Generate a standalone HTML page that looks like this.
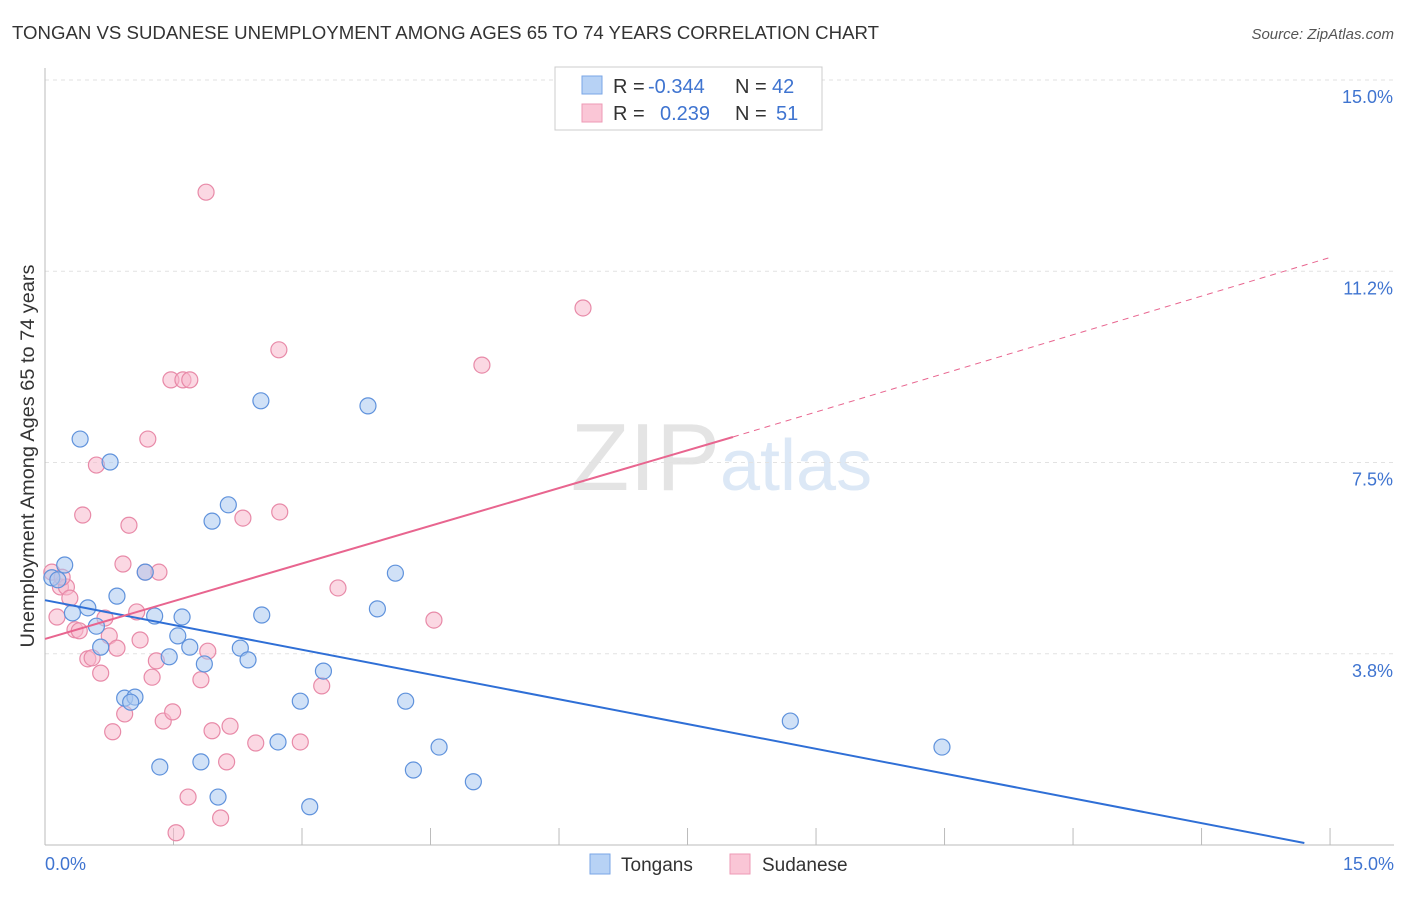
<!DOCTYPE html>
<html><head><meta charset="utf-8"><style>
body{margin:0;background:#fff;font-family:"Liberation Sans",sans-serif}
svg text{font-family:"Liberation Sans",sans-serif}
</style></head><body>
<svg id="c" width="1406" height="892">
<text x="12" y="39" font-size="18" fill="#333" textLength="867" lengthAdjust="spacingAndGlyphs">TONGAN VS SUDANESE UNEMPLOYMENT AMONG AGES 65 TO 74 YEARS CORRELATION CHART</text>
<text x="1394" y="39" font-size="15" fill="#555" font-style="italic" text-anchor="end">Source: ZipAtlas.com</text>
<text x="720" y="490" font-size="96" fill="#e4e4e4" font-family="Liberation Serif" text-anchor="end">ZIP</text>
<text x="720" y="490" font-size="72" fill="#dce8f6">atlas</text>
<text transform="translate(34,456) rotate(-90)" font-size="19.5" fill="#333" text-anchor="middle" textLength="383" lengthAdjust="spacingAndGlyphs">Unemployment Among Ages 65 to 74 years</text>
<g id="grid"></g><g id="marks"></g>
<rect x="555" y="67" width="267" height="63" fill="#fff" stroke="#ccc"/>
<rect x="582" y="76" width="20" height="18" fill="#b7d2f5" stroke="#7aa6e6"/>
<rect x="582" y="104" width="20" height="18" fill="#fac6d6" stroke="#ee9ab5"/>
<text x="613" y="93" font-size="20" fill="#333">R = <tspan x="648" fill="#3f74d0">-0.344</tspan><tspan x="735">N = </tspan><tspan x="772" fill="#3f74d0">42</tspan></text>
<text x="613" y="120" font-size="20" fill="#333">R = <tspan x="660" fill="#3f74d0">0.239</tspan><tspan x="735">N = </tspan><tspan x="776" fill="#3f74d0">51</tspan></text>
<rect x="590" y="854" width="20" height="20" fill="#b7d2f5" stroke="#7aa6e6"/>
<text x="621" y="871" font-size="19" fill="#333">Tongans</text>
<rect x="730" y="854" width="20" height="20" fill="#fac6d6" stroke="#ee9ab5"/>
<text x="762" y="871" font-size="19" fill="#333">Sudanese</text>
</svg>
<script>
const yTicks=[3.75,7.5,11.25,15];
const yTickLabels=["3.8%","7.5%","11.2%","15.0%"];
const xTickVals=[0,1.5,3,4.5,6,7.5,9,10.5,12,13.5,15];
const tongX=[0.08,0.23,0.41,0.76,0.50,0.32,0.60,0.84,0.65,0.93,1.05,1.0,1.17,1.28,1.34,1.55,1.45,1.60,1.69,1.82,1.86,1.95,2.02,2.14,2.28,2.37,2.52,2.53,2.72,2.98,3.09,3.25,3.77,3.88,4.09,4.21,4.30,4.60,5.0,8.70,10.47,0.15];
const tongY=[5.24,5.49,7.96,7.51,4.65,4.55,4.29,4.88,3.88,2.88,2.90,2.80,5.35,4.49,1.53,4.10,3.69,4.47,3.88,1.63,3.55,6.35,0.94,6.67,3.86,3.63,8.71,4.51,2.02,2.82,0.75,3.41,8.61,4.63,5.33,2.82,1.47,1.92,1.24,2.43,1.92,5.2];
const sudX=[1.88,6.28,2.73,5.10,1.47,1.61,1.69,1.20,0.60,0.44,0.98,2.31,2.74,0.91,1.17,1.33,3.42,4.54,0.08,0.18,0.25,0.29,0.14,0.35,0.40,0.70,1.07,0.75,0.84,1.11,0.50,0.55,0.65,1.30,1.25,1.90,1.82,0.93,1.38,1.49,0.79,1.95,2.16,2.46,2.98,3.23,2.12,1.67,2.05,1.53,0.20];
const sudY=[12.8,10.53,9.71,9.41,9.12,9.12,9.12,7.96,7.45,6.47,6.27,6.41,6.53,5.51,5.35,5.35,5.04,4.41,5.35,5.06,5.06,4.84,4.47,4.22,4.20,4.45,4.57,4.10,3.86,4.02,3.65,3.67,3.37,3.61,3.29,3.80,3.24,2.57,2.43,2.61,2.22,2.24,2.33,2.00,2.02,3.12,1.63,0.94,0.53,0.24,5.25];
const tongLine=[[0,4.80],[14.7,0.04]];
const sudLine=[[0,4.04],[8.03,8.0],[14.98,11.51]];
const sx=v=>45+v*85.67, sy=v=>845-v*51;
const NS="http://www.w3.org/2000/svg";
const grid=document.getElementById('grid'), marks=document.getElementById('marks');
function el(p,tag,a){const e=document.createElementNS(NS,tag);for(const k in a)e.setAttribute(k,a[k]);p.appendChild(e);return e;}
yTicks.forEach((t,i)=>{
 const l=el(grid,'line',{x1:45,x2:1394,y1:sy(t),y2:sy(t),stroke:'#e2e2e2','stroke-dasharray':'4,4'});
 
 
 const tx=el(grid,'text',{x:1393,y:sy(t)+23,'font-size':18,fill:'#3f74d0','text-anchor':'end'});
 tx.textContent=yTickLabels[i];
 
 
});
const ax=el(grid,'line',{x1:45,x2:45,y1:68,y2:845,stroke:'#bbb'});


const bx=el(grid,'line',{x1:45,x2:1394,y1:845,y2:845,stroke:'#bbb'});


xTickVals.forEach(t=>{const l=el(grid,'line',{x1:sx(t),x2:sx(t),y1:828,y2:845,stroke:'#bbb'});
 
 });
[[0,'0.0%','start',45],[15,'15.0%','end',1394]].forEach(d=>{const t=el(grid,'text',{x:d[3],y:870,'font-size':18,fill:'#3f74d0','text-anchor':d[2]});t.textContent=d[1];
 
 });
function dots(X,Y,f,s,n){X.forEach((x,i)=>{const c=el(marks,'circle',{cx:sx(x),cy:sy(Y[i]),r:8,fill:f,'fill-opacity':0.55,stroke:s,'stroke-width':1.2});
 
 });}
dots(sudX,sudY,'#f7b8cc','#e88aa8','sudanese-point');
dots(tongX,tongY,'#a9c8f0','#5f92dc','tongan-point');
const tl=el(marks,'line',{x1:sx(tongLine[0][0]),y1:sy(tongLine[0][1]),x2:sx(tongLine[1][0]),y2:sy(tongLine[1][1]),stroke:'#2f6fd6','stroke-width':2});


const pl=el(marks,'line',{x1:sx(sudLine[0][0]),y1:sy(sudLine[0][1]),x2:sx(sudLine[1][0]),y2:sy(sudLine[1][1]),stroke:'#e8658f','stroke-width':2});


const pd=el(marks,'line',{x1:sx(sudLine[1][0]),y1:sy(sudLine[1][1]),x2:sx(sudLine[2][0]),y2:sy(sudLine[2][1]),stroke:'#e8658f','stroke-width':1,'stroke-dasharray':'6,5'});


</script>
</body></html>
